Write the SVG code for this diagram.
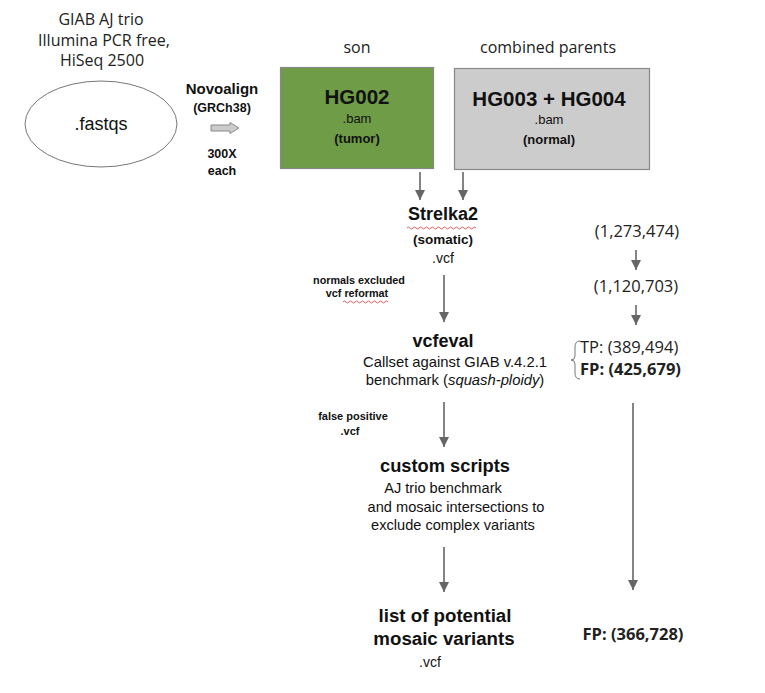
<svg xmlns="http://www.w3.org/2000/svg" width="765" height="693" viewBox="0 0 765 693">
<defs>
<marker id="ah" viewBox="0 0 10 10" refX="10" refY="5" markerWidth="10" markerHeight="10" markerUnits="userSpaceOnUse" orient="auto">
<path d="M0,0 L10,5 L0,10 z" fill="#666"/>
</marker>
<style>
.os{font-family:"Open Sans","Liberation Sans",sans-serif;fill:#222}
.ar{font-family:"Liberation Sans",Arial,sans-serif;fill:#111}
.b{font-weight:bold}
.c{text-anchor:middle}
.conn{stroke:#666;stroke-width:1.6;fill:none;marker-end:url(#ah)}
.wavy{stroke:#e06060;stroke-width:1;fill:none}
</style>
</defs>
<rect width="765" height="693" fill="#fff"/>

<g id="source">
<text class="os c" x="101" y="25" font-size="16">GIAB AJ trio</text>
<text class="os c" x="104" y="46" font-size="16">Illumina PCR free,</text>
<text class="os c" x="102" y="66" font-size="16">HiSeq 2500</text>
<ellipse cx="101" cy="124" rx="76" ry="43" fill="#fff" stroke="#777" stroke-width="1"/>
<text class="ar c" x="101" y="130" font-size="18">.fastqs</text>
</g>

<g id="novoalign">
<text class="ar b c" x="222" y="94" font-size="15">Novoalign</text>
<text class="ar b c" x="222" y="112" font-size="12.5">(GRCh38)</text>
<path d="M211,125 L230,125 L230,122.5 L239,128 L230,133.5 L230,131 L211,131 z" fill="#ccc" stroke="#888" stroke-width="1"/>
<text class="ar b c" x="222" y="158" font-size="12.5">300X</text>
<text class="ar b c" x="222" y="175" font-size="12.5">each</text>
</g>

<g id="son">
<text class="os c" x="357" y="53" font-size="16">son</text>
<rect x="280.5" y="67.5" width="153" height="101" fill="#6f9c46" stroke="#888" stroke-width="1.2"/>
<text class="ar b c" x="357" y="104" font-size="20.5">HG002</text>
<text class="ar c" x="357" y="123" font-size="13">.bam</text>
<text class="ar b c" x="357" y="143" font-size="13">(tumor)</text>
</g>

<g id="parents">
<text class="os c" x="548" y="53" font-size="16">combined parents</text>
<rect x="454.5" y="68.5" width="195" height="101" fill="#cccccc" stroke="#888" stroke-width="1.2"/>
<text class="ar b c" x="549" y="106" font-size="20.5">HG003 + HG004</text>
<text class="ar c" x="549" y="124" font-size="13">.bam</text>
<text class="ar b c" x="549" y="144" font-size="13">(normal)</text>
</g>

<g id="strelka">
<text class="ar b c" x="443" y="220" font-size="18">Strelka2</text>
<path class="wavy" d="M407,228 q1.5,-2 3,0 t3,0 t3,0 t3,0 t3,0 t3,0 t3,0 t3,0 t3,0 t3,0 t3,0 t3,0 t3,0 t3,0 t3,0 t3,0 t3,0 t3,0 t3,0 t3,0 t3,0 t3,0 t3,0"/>
<text class="ar b c" x="443" y="244" font-size="13.5">(somatic)</text>
<text class="ar c" x="443" y="263" font-size="14">.vcf</text>
</g>

<g id="note1">
<text class="ar b c" x="359" y="284" font-size="10.8">normals excluded</text>
<text class="ar b c" x="357" y="297" font-size="10.8">vcf reformat</text>
<path class="wavy" d="M343,302 q1.5,-2 3,0 t3,0 t3,0 t3,0 t3,0 t3,0 t3,0 t3,0 t3,0 t3,0 t3,0 t3,0 t3,0 t3,0 t3,0"/>
</g>

<g id="vcfeval">
<text class="ar b c" x="443" y="347" font-size="18">vcfeval</text>
<text class="ar c" x="455" y="367" font-size="14.8">Callset against GIAB v.4.2.1</text>
<text class="ar c" x="455" y="385" font-size="14.8">benchmark (<tspan font-style="italic">squash-ploidy</tspan>)</text>
</g>

<g id="note2">
<text class="ar b c" x="353" y="420" font-size="11">false positive</text>
<text class="ar b c" x="350" y="435" font-size="11">.vcf</text>
</g>

<g id="custom">
<text class="ar b c" x="445" y="472" font-size="18.3">custom scripts</text>
<text class="ar c" x="443" y="493" font-size="14.6">AJ trio benchmark</text>
<text class="ar c" x="456" y="512" font-size="14.6">and mosaic intersections to</text>
<text class="ar c" x="453" y="530" font-size="14.6">exclude complex variants</text>
</g>

<g id="result">
<text class="ar b c" x="445" y="622" font-size="18.7">list of potential</text>
<text class="ar b c" x="444" y="645" font-size="18.7">mosaic variants</text>
<text class="ar c" x="430" y="667" font-size="14">.vcf</text>
</g>

<g id="counts">
<text class="os c" x="637" y="237" font-size="16.5">(1,273,474)</text>
<text class="os c" x="636" y="292" font-size="16.5">(1,120,703)</text>
<path d="M580,341 q-5,0 -5,6 l0,9 q0,4 -4,4 q4,0 4,4 l0,9 q0,6 5,6" fill="none" stroke="#777" stroke-width="1"/>
<text class="os" x="580" y="353" font-size="16.5">TP: (389,494)</text>
<text class="os b" x="580" y="375" font-size="16.5">FP: (425,679)</text>
<text class="os b c" x="633" y="640" font-size="16.5">FP: (366,728)</text>
</g>

<g id="connectors">
<line class="conn" x1="420" y1="172" x2="420" y2="200"/>
<line class="conn" x1="463" y1="172" x2="463" y2="200"/>
<line class="conn" x1="444" y1="275" x2="444" y2="322"/>
<line class="conn" x1="444" y1="402" x2="444" y2="447"/>
<line class="conn" x1="444" y1="547" x2="444" y2="592"/>
<line class="conn" x1="636" y1="250" x2="636" y2="270"/>
<line class="conn" x1="636" y1="305" x2="636" y2="325"/>
<line class="conn" x1="633" y1="403" x2="633" y2="590"/>
</g>
</svg>
